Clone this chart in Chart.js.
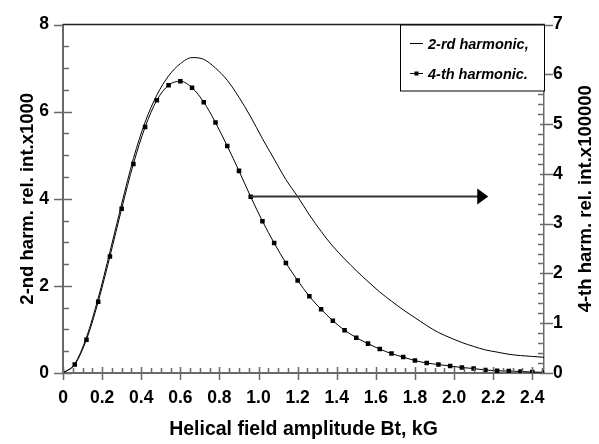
<!DOCTYPE html>
<html>
<head>
<meta charset="utf-8">
<script src="https://cdn.jsdelivr.net/npm/chart.js@4"></script>
<style>
  html, body { margin: 0; padding: 0; background: #fff; }
</style>
</head>
<body>
<canvas id="myChart" width="599" height="444"></canvas>
<script>
// Helical field amplitude, kG (sampling of the 4-th harmonic markers)
const fieldBt = [0, 0.06, 0.12, 0.18, 0.24, 0.30, 0.36, 0.42, 0.48, 0.54, 0.60,
  0.66, 0.72, 0.78, 0.84, 0.90, 0.96, 1.02, 1.08, 1.14, 1.20,
  1.26, 1.32, 1.38, 1.44, 1.50, 1.56, 1.62, 1.68, 1.74, 1.80,
  1.86, 1.92, 1.98, 2.04, 2.10, 2.16, 2.22, 2.28, 2.34, 2.40, 2.46];

// 2-nd harmonic, rel. int. x1000 (left axis)
const harm2 = [0, 0.21, 0.82, 1.72, 2.78, 3.88, 4.92, 5.76, 6.38, 6.82, 7.10,
  7.24, 7.20, 7.00, 6.72, 6.33, 5.88, 5.38, 4.91, 4.44, 4.05,
  3.63, 3.25, 2.91, 2.62, 2.35, 2.10, 1.86, 1.65, 1.45, 1.27,
  1.09, 0.93, 0.81, 0.70, 0.61, 0.53, 0.48, 0.43, 0.40, 0.38, 0.36];

// 4-th harmonic, rel. int. x100000 (right axis)
const harm4 = [0, 0.17, 0.67, 1.43, 2.34, 3.30, 4.20, 4.94, 5.48, 5.78, 5.86,
  5.73, 5.44, 5.03, 4.56, 4.06, 3.54, 3.05, 2.61, 2.21, 1.86,
  1.54, 1.28, 1.05, 0.86, 0.71, 0.59, 0.48, 0.39, 0.32, 0.25,
  0.20, 0.17, 0.14, 0.11, 0.09, 0.06, 0.045, 0.04, 0.03, 0.02, 0.013];

const xTicks = [0, 0.2, 0.4, 0.6, 0.8, 1, 1.2, 1.4, 1.6, 1.8, 2, 2.2, 2.4];
const leftTicks = [0, 2, 4, 6, 8];
const rightTicks = [0, 1, 2, 3, 4, 5, 6, 7];
const seriesNames = ['2-rd harmonic,', '4-th harmonic.'];

const xTitle = 'Helical field amplitude Bt, kG';
const leftTitle = '2-nd harm. rel. int.x1000';
const rightTitle = '4-th harm. rel. int.x100000';

// arrow: from the 4-th harmonic point (left-axis units) towards the right axis
const arrowFrom = { x: 0.96, y: 4.05 };
const arrowToX = 2.175;

const FONT = '"Liberation Sans", Arial, Helvetica, sans-serif';
const AXIS_GRAY = '#6a6a6a';

Chart.defaults.font.family = FONT;
Chart.defaults.color = '#000';

function setTicks(list) {
  return (scale) => { scale.ticks = list.map((v) => ({ value: v })); };
}

// minor ticks, top frame, arrow, legend box, right title
const extras = {
  id: 'extras',
  afterDraw(chart) {
    const { ctx, chartArea: a } = chart;
    const { x, y, y1 } = chart.scales;
    ctx.save();

    // top frame line
    ctx.strokeStyle = '#222';
    ctx.lineWidth = 1.5;
    ctx.beginPath();
    ctx.moveTo(a.left, a.top);
    ctx.lineTo(a.right + 1, a.top);
    ctx.stroke();

    ctx.strokeStyle = AXIS_GRAY;
    ctx.lineWidth = 1.5;
    ctx.beginPath();
    // x axis: minor every 0.05, major crossing
    for (let i = 0; i <= 49; i++) {
      const px = Math.round(x.getPixelForValue(i * 0.05)) + 0.5;
      if (i % 4 === 0) { ctx.moveTo(px, a.bottom - 6); ctx.lineTo(px, a.bottom + 7); }
      else { ctx.moveTo(px, a.bottom - 5); ctx.lineTo(px, a.bottom); }
    }
    // left axis: minor every 0.5
    for (let i = 0; i <= 16; i++) {
      const py = Math.round(y.getPixelForValue(i * 0.5)) + 0.5;
      if (i % 4 === 0) { ctx.moveTo(a.left - 9, py); ctx.lineTo(a.left + (i === 16 ? 0 : 9), py); }
      else { ctx.moveTo(a.left, py); ctx.lineTo(a.left + 6, py); }
    }
    // right axis: minor every 0.2
    for (let i = 0; i <= 35; i++) {
      const py = Math.round(y1.getPixelForValue(i * 0.2)) + 0.5;
      if (i % 5 === 0) { ctx.moveTo(a.right - 4, py); ctx.lineTo(a.right + 9, py); }
      else { ctx.moveTo(a.right - 6, py); ctx.lineTo(a.right, py); }
    }
    ctx.stroke();

    // arrow
    const ax0 = x.getPixelForValue(arrowFrom.x);
    const ax1 = x.getPixelForValue(arrowToX);
    const ay = y.getPixelForValue(arrowFrom.y);
    ctx.strokeStyle = '#333';
    ctx.lineWidth = 2;
    ctx.beginPath();
    ctx.moveTo(ax0, ay);
    ctx.lineTo(ax1 - 8, ay);
    ctx.stroke();
    ctx.fillStyle = '#000';
    ctx.beginPath();
    ctx.moveTo(ax1, ay);
    ctx.lineTo(ax1 - 11, ay - 8);
    ctx.lineTo(ax1 - 11, ay + 8);
    ctx.closePath();
    ctx.fill();

    // legend box
    const lx = 400.5, ly = a.top + 0.5, lw = a.right - 400, lh = 66;
    ctx.fillStyle = '#fff';
    ctx.fillRect(lx, ly, lw, lh);
    ctx.strokeStyle = '#000';
    ctx.lineWidth = 1;
    ctx.strokeRect(lx, ly, lw, lh);
    ctx.font = 'italic bold 14.5px ' + FONT;
    ctx.textBaseline = 'middle';
    ctx.fillStyle = '#000';
    const rows = [ly + 20, ly + 50];
    chart.data.datasets.forEach((ds, i) => {
      const ry = rows[i];
      ctx.strokeStyle = '#000';
      ctx.lineWidth = 1;
      ctx.beginPath();
      ctx.moveTo(410, ry - 1.5);
      ctx.lineTo(423, ry - 1.5);
      ctx.stroke();
      if (ds.pointRadius > 0) ctx.fillRect(414.5, ry - 3.5, 4, 4);
      ctx.fillText(ds.label, 428, ry);
    });

    // right axis title (reads bottom to top)
    ctx.font = 'bold 18.5px ' + FONT;
    ctx.textAlign = 'center';
    ctx.translate(586, (a.top + a.bottom) / 2);
    ctx.rotate(-Math.PI / 2);
    ctx.fillText(rightTitle, 0, 0);

    ctx.restore();
  }
};

const ctx = document.getElementById('myChart').getContext('2d');
const myChart = new Chart(ctx, {
  type: 'line',
  data: {
    datasets: [
      {
        label: seriesNames[0],
        data: fieldBt.map((b, i) => ({ x: b, y: harm2[i] })),
        yAxisID: 'y',
        borderColor: '#000',
        borderWidth: 1,
        pointRadius: 0,
        cubicInterpolationMode: 'monotone',
        fill: false,
      },
      {
        label: seriesNames[1],
        data: fieldBt.map((b, i) => ({ x: b, y: harm4[i] })),
        yAxisID: 'y1',
        borderColor: '#000',
        borderWidth: 1,
        pointStyle: 'rect',
        pointRadius: 3.2,
        pointBackgroundColor: '#000',
        pointBorderWidth: 0,
        cubicInterpolationMode: 'monotone',
        fill: false,
      },
    ],
  },
  options: {
    responsive: false,
    animation: false,
    events: [],
    layout: { padding: { top: 15, left: 0, right: 0, bottom: 0 } },
    plugins: { legend: { display: false }, tooltip: { enabled: false } },
    scales: {
      x: {
        type: 'linear',
        min: 0,
        max: 2.46,
        afterBuildTicks: setTicks(xTicks),
        afterFit: (s) => { s.height = 71; },
        grid: { display: false, drawTicks: false },
        border: { display: true, color: AXIS_GRAY, width: 2 },
        ticks: { font: { size: 17.5, weight: 'bold' }, padding: 15, autoSkip: false, maxRotation: 0 },
        title: { display: true, text: xTitle, font: { size: 19.5, weight: 'bold' }, padding: { top: 0, bottom: 3 } },
      },
      y: {
        position: 'left',
        min: 0,
        max: 8,
        afterBuildTicks: setTicks(leftTicks),
        afterFit: (s) => { s.width = 63; },
        grid: { display: false, drawTicks: false },
        border: { display: true, color: AXIS_GRAY, width: 2 },
        ticks: { font: { size: 17.5, weight: 'bold' }, padding: 14 },
        title: { display: true, text: leftTitle, font: { size: 18.5, weight: 'bold' }, padding: { top: 17, bottom: 0 } },
      },
      y1: {
        position: 'right',
        min: 0,
        max: 7,
        afterBuildTicks: setTicks(rightTicks),
        afterFit: (s) => { s.width = 55; },
        grid: { display: false, drawTicks: false },
        border: { display: true, color: AXIS_GRAY, width: 1.5 },
        ticks: { font: { size: 17.5, weight: 'bold' }, padding: 9 },
      },
    },
  },
  plugins: [extras],
});
</script>
</body>
</html>
